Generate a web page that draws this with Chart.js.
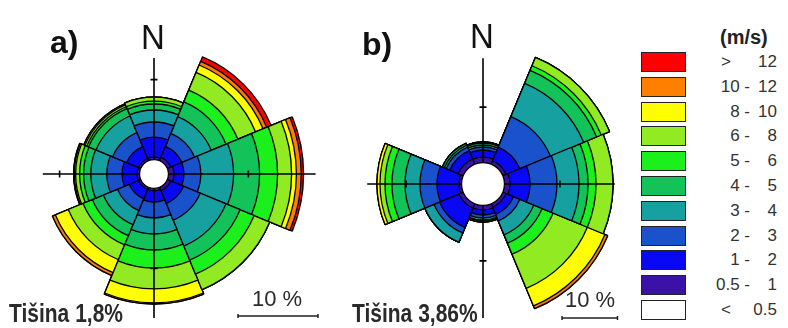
<!DOCTYPE html>
<html>
<head>
<meta charset="utf-8">
<script src="https://cdn.jsdelivr.net/npm/chart.js@4/dist/chart.umd.min.js"></script>
<style>
  html, body { margin: 0; padding: 0; background: #fff; }
  body { position: relative; width: 788px; height: 328px; overflow: hidden;
         font-family: "Liberation Sans", Arial, sans-serif; color: #222; }
  canvas { position: absolute; }
  .t { position: absolute; white-space: nowrap; line-height: 1; }
  .panel { font-weight: bold; font-size: 32px; color: #111; }
  .north { font-size: 33px; color: #111; transform: translateX(-50%) scaleY(1.05); }
  .calm { font-weight: bold; font-size: 25px; color: #2a2a2a;
          transform: scaleX(0.84); transform-origin: 0 0; }
  .bar { font-size: 22px; color: #2a2a2a; }
  .unit { font-weight: bold; font-size: 20px; color: #222; }
  .sw { position: absolute; box-sizing: border-box; border: 1.5px solid #222; }
  .lg { position: absolute; font-size: 17px; line-height: 20px; color: #333; text-align: right; white-space: nowrap; }
</style>
</head>
<body>
<canvas id="roseA" width="340" height="340" style="left:-16px; top:4px"></canvas>
<canvas id="roseB" width="300" height="300" style="left:333px; top:34px"></canvas>

<div class="t panel" style="left:50px; top:26px">a)</div>
<div class="t north" style="left:153px; top:20px">N</div>
<div class="t calm" style="left:9px; top:301px">Tišina 1,8%</div>
<div class="t bar" style="left:252px; top:288px">10 %</div>

<div class="t panel" style="left:362px; top:28px">b)</div>
<div class="t north" style="left:482px; top:19px">N</div>
<div class="t calm" style="left:352px; top:301px">Tišina 3,86%</div>
<div class="t bar" style="left:565px; top:289px">10 %</div>

<div class="t unit" style="left:720px; top:27px">(m/s)</div>
<div id="legend"></div>

<script>
// Sectors, clockwise from north
const directions = ['N', 'NE', 'E', 'SE', 'S', 'SW', 'W', 'NW'];

// Wind speed classes (m/s), slowest first
const classLow  = ['<', '0.5 -', '1 -', '2 -', '3 -', '4 -', '5 -', '6 -', '8 -', '10 -', '>'];
const classHigh = ['0.5', '1', '2', '3', '4', '5', '6', '8', '10', '12', '12'];
const classColors = ['#ffffff', '#3a12a8', '#0808f4', '#1a52cc', '#16a0a0', '#14c25a',
                     '#1cf01c', '#92ea22', '#ffff00', '#ff8000', '#ff0000'];

// Station a) — frequency (%) per direction for each speed class
const aCalm = 1.8;
const a_lt05  = [0.00, 0.00, 0.00, 0.00, 0.00, 0.00, 0.00, 0.00];
const a_05_1  = [0.30, 0.45, 0.70, 0.45, 0.30, 0.30, 0.30, 0.30];
const a_1_2   = [2.50, 1.50, 1.25, 1.75, 1.40, 1.25, 1.90, 1.60];
const a_2_3   = [1.90, 1.75, 2.10, 2.25, 2.00, 1.60, 1.90, 1.90];
const a_3_4   = [1.50, 2.25, 4.10, 3.50, 2.00, 1.90, 2.00, 2.25];
const a_4_5   = [0.75, 2.00, 3.25, 1.90, 2.00, 1.50, 0.90, 1.00];
const a_5_6   = [0.35, 1.60, 2.25, 1.90, 2.25, 1.25, 0.50, 0.25];
const a_6_8   = [0.50, 2.40, 1.75, 2.10, 2.60, 2.00, 0.50, 0.25];
const a_8_10  = [0.00, 1.00, 0.60, 0.00, 1.75, 1.75, 0.15, 0.15];
const a_10_12 = [0.00, 0.50, 0.60, 0.00, 0.15, 0.40, 0.10, 0.00];
const a_gt12  = [0.00, 0.60, 0.30, 0.00, 0.00, 0.00, 0.00, 0.00];

// Station b) — frequency (%) per direction for each speed class
const bCalm = 3.86;
const b_lt05  = [0.00, 0.00, 0.00, 0.00, 0.00, 0.00, 0.00, 0.00];
const b_05_1  = [1.00, 0.64, 1.00, 0.64, 0.82, 0.82, 0.46, 1.00];
const b_1_2   = [1.27, 2.71, 3.61, 1.45, 0.91, 3.79, 3.97, 1.63];
const b_2_3   = [0.54, 5.94, 4.86, 1.26, 0.54, 1.08, 3.06, 0.72];
const b_3_4   = [0.36, 6.49, 3.97, 2.70, 0.36, 1.80, 2.70, 0.36];
const b_4_5   = [0.36, 2.52, 1.62, 1.62, 0.18, 0.00, 2.35, 0.36];
const b_5_6   = [0.18, 0.90, 1.44, 2.16, 0.18, 0.00, 1.26, 0.00];
const b_6_8   = [0.00, 1.62, 3.06, 6.67, 0.00, 0.00, 0.90, 0.00];
const b_8_10  = [0.00, 0.00, 0.00, 3.42, 0.00, 0.00, 0.54, 0.00];
const b_10_12 = [0.00, 0.00, 0.00, 0.54, 0.00, 0.00, 0.00, 0.00];
const b_gt12  = [0.00, 0.00, 0.00, 0.00, 0.00, 0.00, 0.00, 0.00];

// Axis cross, 10 % ticks, calm circle and 10 % scale bar
function roseOverlay(view) {
  return {
    id: 'roseOverlay',
    afterDatasetsDraw(chart) {
      const s = chart.scales.r, ctx = chart.ctx;
      const cx = s.xCenter, cy = s.yCenter;
      const r = v => s.getDistanceFromCenterForValue(v);
      ctx.save();
      ctx.strokeStyle = '#000';
      ctx.lineWidth = 1.6;
      ctx.beginPath();
      ctx.moveTo(cx, cy - r(view.axisN)); ctx.lineTo(cx, cy + r(view.axisS));
      ctx.moveTo(cx - r(view.axisW), cy); ctx.lineTo(cx + r(view.axisE), cy);
      const t = r(10), h = 3.5;
      ctx.moveTo(cx - h, cy - t); ctx.lineTo(cx + h, cy - t);
      ctx.moveTo(cx - h, cy + t); ctx.lineTo(cx + h, cy + t);
      ctx.moveTo(cx - t, cy - h); ctx.lineTo(cx - t, cy + h);
      ctx.moveTo(cx + t, cy - h); ctx.lineTo(cx + t, cy + h);
      ctx.stroke();

      ctx.beginPath();
      ctx.arc(cx, cy, r(0), 0, Math.PI * 2);
      ctx.fillStyle = '#fff';
      ctx.fill();
      ctx.lineWidth = 1.2;
      ctx.stroke();

      const len = r(10) - r(0);
      ctx.lineWidth = 1.5;
      ctx.strokeStyle = '#222';
      ctx.beginPath();
      ctx.moveTo(view.barX, view.barY); ctx.lineTo(view.barX + len, view.barY);
      ctx.moveTo(view.barX, view.barY - 2); ctx.lineTo(view.barX, view.barY + 2);
      ctx.moveTo(view.barX + len, view.barY - 2); ctx.lineTo(view.barX + len, view.barY + 2);
      ctx.stroke();
      ctx.restore();
    }
  };
}

function buildRose(canvasId, classes, calm, view) {
  let run = directions.map(() => 0);
  const datasets = classes.map((vals, k) => {
    run = run.map((sum, i) => sum + vals[i]);
    return {
      label: classLow[k] + ' ' + classHigh[k],
      data: run.slice(),
      backgroundColor: classColors[k],
      borderColor: '#000',
      borderWidth: 1.3
    };
  });
  new Chart(document.getElementById(canvasId), {
    type: 'polarArea',
    data: { labels: directions, datasets },
    options: {
      responsive: false,
      animation: false,
      events: [],
      layout: { padding: 0 },
      plugins: { legend: { display: false }, tooltip: { enabled: false } },
      scales: {
        r: {
          min: -calm,
          max: view.max,
          startAngle: -22.5,
          ticks: { display: false },
          grid: { display: false },
          angleLines: { display: false },
          pointLabels: { display: false }
        }
      }
    },
    plugins: [roseOverlay(view)]
  });
}

buildRose('roseA',
  [a_lt05, a_05_1, a_1_2, a_2_3, a_3_4, a_4_5, a_5_6, a_6_8, a_8_10, a_10_12, a_gt12],
  aCalm,
  { max: 170 / 8 - aCalm, axisN: 12.7, axisE: 18.4, axisS: 16.2, axisW: 12.1, barX: 254, barY: 312 });

buildRose('roseB',
  [b_lt05, b_05_1, b_1_2, b_2_3, b_3_4, b_4_5, b_5_6, b_6_8, b_8_10, b_10_12, b_gt12],
  bCalm,
  { max: 150 / 5.55 - bCalm, axisN: 18.8, axisE: 19.9, axisS: 20.3, axisW: 17.0, barX: 229, barY: 284 });

// Speed legend, fastest class on top
const legend = document.getElementById('legend');
for (let row = 0; row < classColors.length; row++) {
  const k = classColors.length - 1 - row;
  const top = 52 + row * 24.8;
  const sw = document.createElement('div');
  sw.className = 'sw';
  sw.style.cssText = `left:641px; top:${top}px; width:45px; height:20px; background:${classColors[k]}`;
  legend.appendChild(sw);
  const lo = document.createElement('div');
  lo.className = 'lg';
  const sym = classLow[k] === '<' || classLow[k] === '>';
  lo.style.cssText = `right:${sym ? 57 : 38}px; top:${top}px`;
  lo.textContent = classLow[k];
  legend.appendChild(lo);
  const hi = document.createElement('div');
  hi.className = 'lg';
  hi.style.cssText = `right:11px; top:${top}px`;
  hi.textContent = classHigh[k];
  legend.appendChild(hi);
}
</script>
</body>
</html>
